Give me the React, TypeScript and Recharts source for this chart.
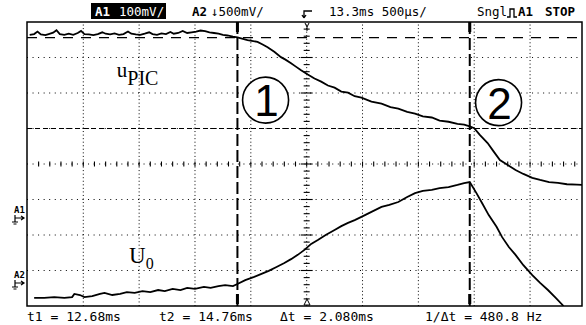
import React from 'react'
import { LineChart, Line, XAxis, YAxis, ReferenceLine, ReferenceArea, ReferenceDot } from 'recharts'

// time in ms, level in screen divisions (0 = centre graticule line)
const uPic: [number, number][] = [
  [10.82, 3.64], [10.86, 3.66], [10.89, 3.73], [10.92, 3.65], [10.96, 3.63], [10.99, 3.66], [11.03, 3.70],
  [11.06, 3.77], [11.09, 3.66], [11.13, 3.64], [11.17, 3.67], [11.21, 3.64], [11.25, 3.69], [11.28, 3.75],
  [11.31, 3.66], [11.35, 3.65], [11.39, 3.63], [11.43, 3.66], [11.47, 3.71], [11.50, 3.67], [11.54, 3.65],
  [11.58, 3.68], [11.62, 3.64], [11.66, 3.66], [11.70, 3.73], [11.73, 3.67], [11.77, 3.65], [11.81, 3.64],
  [11.85, 3.67], [11.89, 3.71], [11.92, 3.66], [11.96, 3.64], [12.00, 3.68], [12.04, 3.66], [12.08, 3.72],
  [12.11, 3.67], [12.15, 3.69], [12.19, 3.75], [12.23, 3.69], [12.27, 3.71], [12.31, 3.73], [12.35, 3.76],
  [12.39, 3.74], [12.43, 3.71], [12.47, 3.69], [12.51, 3.67], [12.55, 3.64], [12.59, 3.62], [12.64, 3.59],
  [12.68, 3.57], [12.77, 3.49], [12.86, 3.44], [12.91, 3.36], [12.95, 3.29], [13.01, 3.16], [13.07, 3.01],
  [13.11, 2.94], [13.16, 2.84], [13.20, 2.75], [13.25, 2.64], [13.31, 2.52], [13.37, 2.41], [13.43, 2.32],
  [13.49, 2.21], [13.55, 2.15], [13.61, 2.04], [13.67, 2.01], [13.73, 1.91], [13.79, 1.87], [13.88, 1.76],
  [13.97, 1.70], [14.05, 1.60], [14.12, 1.56], [14.20, 1.47], [14.27, 1.42], [14.34, 1.34], [14.42, 1.31],
  [14.49, 1.22], [14.57, 1.19], [14.65, 1.13], [14.71, 1.11], [14.76, 1.06], [14.80, 1.01], [14.85, 0.82],
  [14.92, 0.59], [14.97, 0.37], [15.03, 0.11], [15.10, -0.03], [15.17, -0.17], [15.24, -0.28], [15.32, -0.39],
  [15.39, -0.45], [15.47, -0.51], [15.55, -0.53], [15.63, -0.57], [15.72, -0.58], [15.79, -0.59],
]

const u0: [number, number][] = [
  [10.86, -3.77], [10.95, -3.77], [11.04, -3.75], [11.13, -3.77], [11.20, -3.75], [11.22, -3.66], [11.27, -3.69],
  [11.31, -3.75], [11.38, -3.72], [11.45, -3.66], [11.49, -3.63], [11.56, -3.69], [11.63, -3.66], [11.69, -3.61],
  [11.76, -3.63], [11.83, -3.58], [11.90, -3.61], [11.97, -3.55], [12.03, -3.58], [12.10, -3.52], [12.17, -3.55],
  [12.23, -3.49], [12.30, -3.52], [12.38, -3.46], [12.44, -3.49], [12.51, -3.44], [12.57, -3.41], [12.64, -3.44],
  [12.68, -3.38], [12.75, -3.27], [12.83, -3.18], [12.89, -3.10], [12.96, -3.01], [13.03, -2.90], [13.10, -2.79],
  [13.16, -2.68], [13.22, -2.56], [13.28, -2.42], [13.34, -2.25], [13.40, -2.14], [13.47, -2.00], [13.55, -1.86],
  [13.61, -1.75], [13.67, -1.66], [13.73, -1.58], [13.79, -1.49], [13.88, -1.35], [13.97, -1.21], [14.04, -1.15],
  [14.12, -1.07], [14.20, -0.93], [14.27, -0.82], [14.34, -0.76], [14.42, -0.73], [14.49, -0.68], [14.57, -0.65],
  [14.65, -0.59], [14.71, -0.54], [14.76, -0.51], [14.82, -0.82], [14.87, -1.10], [14.93, -1.44], [15.00, -1.77],
  [15.05, -2.06], [15.11, -2.34], [15.17, -2.56], [15.24, -2.85], [15.32, -3.13], [15.39, -3.35], [15.46, -3.55],
  [15.53, -3.77], [15.60, -4.00],
]

const cursorTimes = [12.68, 14.76]
const cursorLevels = [3.56, 1.0]
const readout = ['t1 = 12.68ms', 't2 = 14.76ms', 'Δt = 2.080ms', '1/Δt = 480.8 Hz']
const readoutX = [27, 159, 280, 425]

const W = 586
const H = 325
const T0 = 10.796
const T1 = 15.765
const TC = 13.3
const mono = '"DejaVu Sans Mono", monospace'

const vGrid = [1, 2, 3, 4, 6, 7, 8, 9].map(k => 10.8 + k * 0.5)
const hGrid = [-3, -2, -1, 1, 2, 3]
const xMinor = Array.from({ length: 49 }, (_, k) => 10.8 + (k + 1) * 0.1)
const yMinor = Array.from({ length: 39 }, (_, k) => ({ y: -4 + (k + 1) * 0.2, major: (k + 1) % 5 === 0 }))

const picData = uPic.map(([t, v]) => ({ t, v }))
const u0Data = u0.map(([t, v]) => ({ t, v }))

function Circled({ cx, cy, n }: { cx: number; cy: number; n: string }) {
  return (
    <g>
      <circle cx={cx} cy={cy} r={23} fill="#fff" stroke="#000" strokeWidth={1.6} />
      <text x={cx + 1} y={cy + 16} textAnchor="middle" fontSize={44} fontFamily='"Liberation Sans", Arial' fill="#000">{n}</text>
    </g>
  )
}

export default function App() {
  return (
    <div style={{ position: 'absolute', left: 0, top: 0, width: W, height: H, background: '#fff' }}>
      <LineChart width={W} height={H} margin={{ top: 22, right: 4, bottom: 19, left: 27 }}>
        <XAxis type="number" dataKey="t" domain={[T0, T1]} hide allowDataOverflow />
        <YAxis type="number" domain={[-4, 4]} hide allowDataOverflow />
        {vGrid.map(x => (
          <ReferenceLine key={'v' + x} x={x} stroke="#000" strokeDasharray="1 2.55" />
        ))}
        {hGrid.map(y => (
          <ReferenceLine key={'h' + y} y={y} stroke="#000" strokeDasharray="1 4.55" />
        ))}
        <ReferenceLine y={0} stroke="#000" strokeDasharray="1 4.55" />
        <ReferenceLine x={TC} stroke="#000" strokeDasharray="1 2.55" />
        {xMinor.map(x => (
          <ReferenceDot key={'mx' + x} x={x} y={0} r={1}
            shape={(p: any) => <line x1={p.cx} y1={p.cy - 2.5} x2={p.cx} y2={p.cy + 2.5} stroke="#000" strokeWidth={1.1} />} />
        ))}
        {yMinor.map(m => (
          <ReferenceDot key={'my' + m.y} x={TC} y={m.y} r={1}
            shape={(p: any) => <line x1={p.cx - (m.major ? 6 : 3)} y1={p.cy} x2={p.cx + (m.major ? 6 : 3)} y2={p.cy} stroke="#000" strokeWidth={1.1} />} />
        ))}
        <ReferenceLine y={cursorLevels[0]} stroke="#000" strokeWidth={1.3} strokeDasharray="10 8" />
        <ReferenceLine y={cursorLevels[1]} stroke="#000" strokeWidth={1.2} strokeDasharray="5 3" />
        {cursorTimes.map(x => (
          <ReferenceLine key={'c' + x} x={x} stroke="#000" strokeWidth={2} strokeDasharray="12 4" />
        ))}
        {cursorTimes.map(x => (
          <ReferenceDot key={'ct' + x} x={x} y={4} r={1}
            shape={(p: any) => <rect x={p.cx - 1.5} y={p.cy} width={3} height={10} fill="#000" />} />
        ))}
        {cursorTimes.map(x => (
          <ReferenceDot key={'cb' + x} x={x} y={-4} r={1}
            shape={(p: any) => <rect x={p.cx - 1.5} y={p.cy - 12} width={3} height={10} fill="#000" />} />
        ))}
        <ReferenceArea x1={T0} x2={T1} y1={-4} y2={4} fill="none" stroke="#000" strokeWidth={1.5} />
        <Line data={picData} dataKey="v" type="linear" dot={false} stroke="#000" strokeWidth={1.8} isAnimationActive={false} />
        <Line data={u0Data} dataKey="v" type="linear" dot={false} stroke="#000" strokeWidth={1.8} isAnimationActive={false} />
        <ReferenceDot x={12.932} y={1.8} r={23} shape={(p: any) => <Circled cx={p.cx} cy={p.cy} n="1" />} />
        <ReferenceDot x={15.018} y={1.73} r={23} shape={(p: any) => <Circled cx={p.cx} cy={p.cy} n="2" />} />
        <ReferenceDot
          x={11.6}
          y={2.45}
          r={1}
          shape={(p: any) => (
            <text x={p.cx} y={p.cy} fontFamily='"Liberation Serif", serif' fontSize={21} fill="#000">
              u<tspan dy={8} fontSize={20}>PIC</tspan>
            </text>
          )}
        />
        <ReferenceDot
          x={11.71}
          y={-2.79}
          r={1}
          shape={(p: any) => (
            <text x={p.cx} y={p.cy} fontFamily='"Liberation Serif", serif' fontSize={23} fill="#000">
              U<tspan dy={6} fontSize={16}>0</tspan>
            </text>
          )}
        />
      </LineChart>
      <svg width={W} height={H} style={{ position: 'absolute', left: 0, top: 0, pointerEvents: 'none' }}>
        <g fontFamily={mono} fontSize={12.5} fill="#000">
          <rect x={91} y={3} width={75} height={16} fill="#000" />
          <text x={95} y={16} fill="#fff" fontWeight="bold">A1</text>
          <text x={119} y={16} fill="#fff">100mV/</text>
          <text x={192} y={16} fontWeight="bold">A2</text>
          <text x={211} y={16}>↓500mV/</text>
          <path d="M304 18 V11 H312 M304 18 l-2 -3 M304 18 l2 -3" stroke="#000" fill="none" strokeWidth={1.3} />
          <text x={329} y={16}>13.3ms 500µs/</text>
          <text x={477} y={16}>Sngl</text>
          <path d="M507 17 H510 V9 H514 V17 H517" stroke="#000" fill="none" strokeWidth={1.3} />
          <text x={518} y={16} fontWeight="bold">A1</text>
          <text x={545} y={16} fontWeight="bold">STOP</text>
        </g>
        <g fontFamily={mono} fontSize={13} fill="#000">
          {readout.map((s, i) => (
            <text key={s} x={readoutX[i]} y={321}>{s}</text>
          ))}
        </g>
        <g fontFamily={mono} fontSize={9} fontWeight="bold" fill="#000">
          <text x={14} y={213}>A1</text>
          <path d="M15 215 V222 M12 222 H18 M13.5 224 H16.5 M15 218 H24 M21 216 L24 218 L21 220" stroke="#000" fill="none" strokeWidth={1.2} />
          <text x={14} y={278}>A2</text>
          <path d="M15 280 V287 M12 287 H18 M13.5 289 H16.5 M15 283 H24 M21 281 L24 283 L21 285" stroke="#000" fill="none" strokeWidth={1.2} />
        </g>
        <path d="M305 23 L307 27 L309 23 M307 27 V31" stroke="#000" fill="none" strokeWidth={1} />
        <path d="M304 305 L307 299 L310 305 Z" stroke="#000" fill="#fff" strokeWidth={1} />
      </svg>
    </div>
  )
}
